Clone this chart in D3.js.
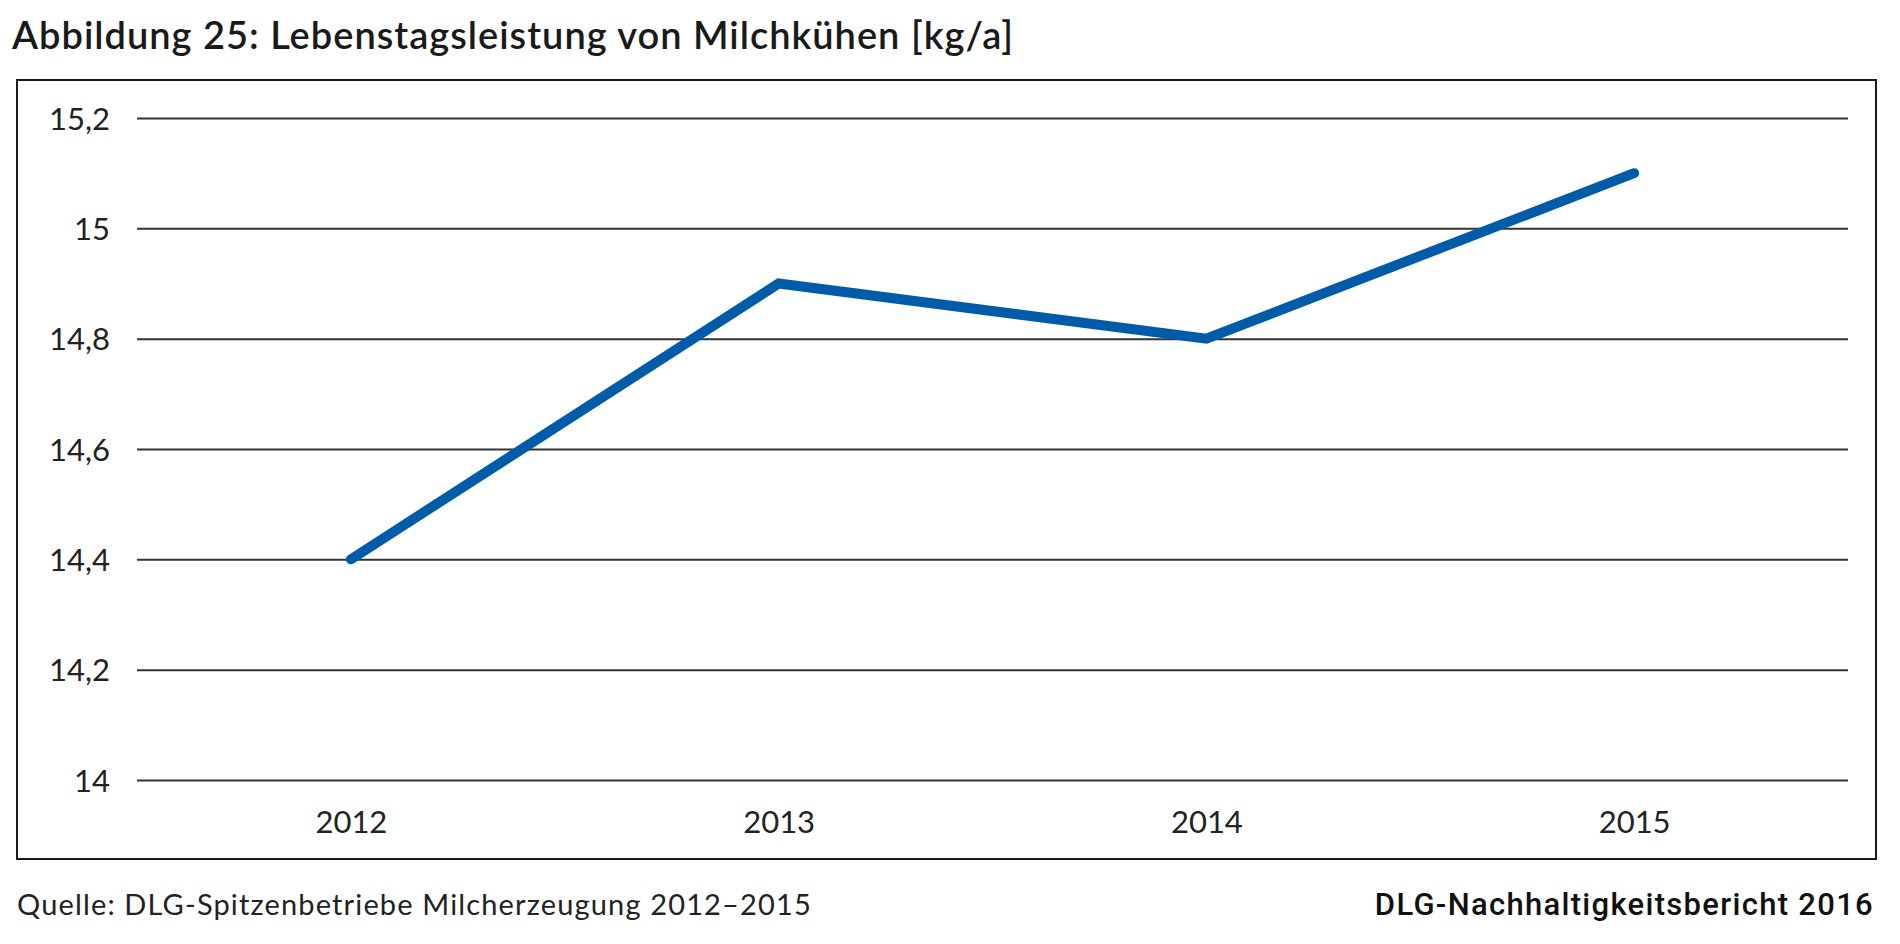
<!DOCTYPE html>
<html>
<head>
<meta charset="utf-8">
<script src="https://cdn.jsdelivr.net/npm/d3@7"></script>
<style>
  html, body { margin: 0; padding: 0; background: #fff; }
  svg { display: block; }
</style>
</head>
<body>
<svg id="chart" width="1900" height="944"></svg>
<script>
// ---- data ----
const years = ["2012", "2013", "2014", "2015"];
const values = [14.4, 14.9, 14.8, 15.1];
const yTicks = [14, 14.2, 14.4, 14.6, 14.8, 15, 15.2];
const titleText = "Abbildung 25: Lebenstagsleistung von Milchkühen [kg/a]";
const sourceText = "Quelle: DLG-Spitzenbetriebe Milcherzeugung 2012–2015";
const reportText = "DLG-Nachhaltigkeitsbericht 2016";

// ---- layout ----
const svg = d3.select("#chart");
const plotLeft = 137, plotRight = 1848, plotTop = 118, plotBottom = 780;
const frame = { x: 17, y: 80, w: 1859, h: 779 };
const sans = "Lato, 'Open Sans', 'Noto Sans', sans-serif";

const x = d3.scalePoint().domain(years).range([plotLeft, plotRight]).padding(0.5);
const y = d3.scaleLinear().domain([14, 15.2]).range([plotBottom, plotTop]);
const fmt = v => d3.format("")(+v.toFixed(1)).replace(".", ",");

// title
svg.append("text")
  .attr("x", 12).attr("y", 49)
  .attr("font-family", sans).attr("font-size", 38).attr("font-weight", 600)
  .attr("letter-spacing", 1.0)
  .attr("fill", "#1a1a1a")
  .text(titleText);

// frame
svg.append("rect")
  .attr("x", frame.x).attr("y", frame.y).attr("width", frame.w).attr("height", frame.h)
  .attr("fill", "none").attr("stroke", "#1a1a1a").attr("stroke-width", 2);

// y axis with grid lines
const yAxis = svg.append("g")
  .attr("transform", `translate(${plotLeft},0)`)
  .call(d3.axisLeft(y).tickValues(yTicks).tickSize(-(plotRight - plotLeft)).tickPadding(27).tickFormat(fmt));
yAxis.select(".domain").remove();
yAxis.selectAll(".tick line").attr("stroke", "#333").attr("stroke-width", 2);
yAxis.selectAll(".tick text")
  .attr("font-family", sans).attr("font-size", 31).attr("fill", "#222").attr("dy", "0.36em");

// x axis labels
const xAxis = svg.append("g")
  .attr("transform", `translate(0,${plotBottom})`)
  .call(d3.axisBottom(x).tickSize(0).tickPadding(0));
xAxis.select(".domain").remove();
xAxis.selectAll(".tick text")
  .attr("font-family", sans).attr("font-size", 31).attr("fill", "#222")
  .attr("y", 53).attr("dy", 0);

// line
const line = d3.line().x((d, i) => x(years[i])).y(d => y(d));
svg.append("path")
  .datum(values)
  .attr("d", line)
  .attr("fill", "none")
  .attr("stroke", "#005ca9")
  .attr("stroke-width", 10)
  .attr("stroke-linecap", "round")
  .attr("stroke-linejoin", "miter");

// footer
svg.append("text")
  .attr("x", 17).attr("y", 915)
  .attr("font-family", sans).attr("font-size", 29).attr("fill", "#222")
  .attr("letter-spacing", 1.15)
  .text(sourceText);
svg.append("text")
  .attr("x", 1874).attr("y", 915).attr("text-anchor", "end")
  .attr("font-family", "Roboto, 'DejaVu Sans', sans-serif")
  .attr("font-size", 31).attr("font-weight", 500).attr("fill", "#111")
  .attr("letter-spacing", 1.3)
  .text(reportText);
</script>
</body>
</html>
